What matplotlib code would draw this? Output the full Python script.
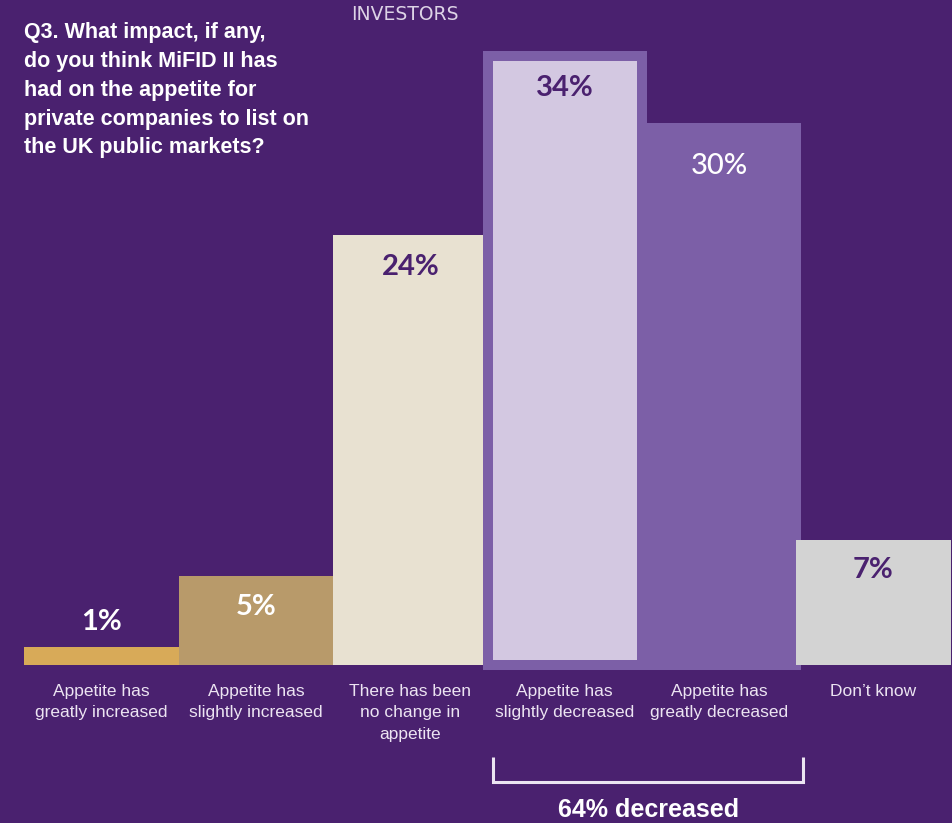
import matplotlib
matplotlib.use("Agg")
import matplotlib.pyplot as plt
from matplotlib import font_manager

# ---- data -------------------------------------------------------------
categories = [
    "Appetite has\ngreatly increased",
    "Appetite has\nslightly increased",
    "There has been\nno change in\nappetite",
    "Appetite has\nslightly decreased",
    "Appetite has\ngreatly decreased",
    "Don\u2019t know",
]
values = [1, 5, 24, 34, 30, 7]
value_labels = ["1%", "5%", "24%", "34%", "30%", "7%"]
group_label = "64% decreased"
title = ("Q3. What impact, if any,\ndo you think MiFID II has\nhad on the appetite for\n"
         "private companies to list on\nthe UK public markets?")
section = "INVESTORS"

# ---- style ------------------------------------------------------------
BG = "#4a216f"
DARK = "#4a216f"
FRAME = "#7c5fa7"
LIGHT_TXT = "#ece4f2"
bar_colors = ["#d8aa58", "#b89a6a", "#e8e1d1", "#d3c8e1", FRAME, "#d3d3d3"]
value_colors = ["white", "white", DARK, DARK, "white", DARK]
value_weights = ["bold", "bold", "bold", "bold", "medium", "bold"]
label_offsets = [1.4, -1.77, -1.75, -1.74, -2.15, -1.72]

available = {f.name for f in font_manager.fontManager.ttflist}


def pick(*names):
    for n in names:
        if n in available:
            return n
    return "DejaVu Sans"


narrow = pick("Liberation Sans Narrow", "Liberation Sans")
numfont = pick("Lato", "Open Sans", "DejaVu Sans")

W, H, DPI = 953, 823, 100
fig = plt.figure(figsize=(W / DPI, H / DPI), dpi=DPI, facecolor=BG)
ax = fig.add_axes([0, 0, 1, 1])
ax.set_facecolor(BG)

# horizontal: one category per unit, vertical: percent
unit_px = 154.4
first_center_px = 101.5
px_per_pct = 17.9
baseline_from_bottom = 158
ax.set_xlim(-first_center_px / unit_px, (W - first_center_px) / unit_px)
ax.set_ylim(-baseline_from_bottom / px_per_pct, (H - baseline_from_bottom) / px_per_pct)
ax.axis("off")

x = list(range(len(values)))
frame_lw = 10 * 72 / DPI
zorders = [2, 2, 2, 4, 3, 5]
for i, v in enumerate(values):
    framed = i in (3, 4)
    ax.bar(x[i], v, width=1.0, color=bar_colors[i],
           edgecolor=FRAME if framed else "none",
           linewidth=frame_lw if framed else 0,
           joinstyle="miter", zorder=zorders[i])

for i, v in enumerate(values):
    ax.text(x[i], v + label_offsets[i], value_labels[i], ha="center", va="center",
            fontsize=21, fontweight=value_weights[i], fontfamily=numfont,
            color=value_colors[i], zorder=10)

for i, c in enumerate(categories):
    ax.text(x[i], -1.05, c, ha="center", va="top", fontsize=12.5,
            fontfamily=narrow, color=LIGHT_TXT, linespacing=1.53, zorder=10)

# bracket grouping the two "decreased" answers
bl, br = x[3] - 0.465, x[4] + 0.545
y_top, y_bot = -5.14, -6.54
ax.plot([bl, bl, br, br], [y_top, y_bot, y_bot, y_top], color=LIGHT_TXT,
        lw=2.2, solid_joinstyle="miter", solid_capstyle="butt", zorder=10)
ax.text((bl + br) / 2, -8.5, group_label, ha="center", va="baseline",
        fontsize=18, fontweight="bold", fontfamily=narrow, color="white", zorder=10)

fig.text(24 / W, 1 - 22 / H, title, ha="left", va="top", fontsize=15.5,
         fontweight="bold", fontfamily=narrow, color="white", linespacing=1.49)
fig.text(405 / W, 1 - 15 / H, section, ha="center", va="center", fontsize=13.5,
         fontfamily="DejaVu Sans", color="#ddd3e6")

fig.savefig("out.png", dpi=DPI, facecolor=BG)
